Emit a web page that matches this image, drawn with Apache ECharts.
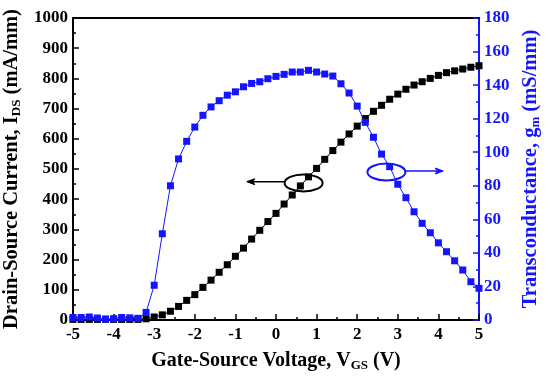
<!DOCTYPE html>
<html>
<head>
<meta charset="utf-8">
<script src="https://cdn.jsdelivr.net/npm/echarts@6/dist/echarts.min.js"></script>
<style>
html,body{margin:0;padding:0;background:#fff;}
#chart{width:550px;height:382px;}
</style>
</head>
<body>
<div id="chart"></div>
<script>
// Gate-source voltage (V)
var vgs = [-5.0,-4.8,-4.6,-4.4,-4.2,-4.0,-3.8,-3.6,-3.4,-3.2,
           -3.0,-2.8,-2.6,-2.4,-2.2,-2.0,-1.8,-1.6,-1.4,-1.2,
           -1.0,-0.8,-0.6,-0.4,-0.2,0.0,0.2,0.4,0.6,0.8,
           1.0,1.2,1.4,1.6,1.8,2.0,2.2,2.4,2.6,2.8,
           3.0,3.2,3.4,3.6,3.8,4.0,4.2,4.4,4.6,4.8,5.0];
// Drain-source current (mA/mm)
var ids = [2,2,2,2,3,2,2,2,2,4,
           10,17,29,45,65,84,108,132,158,183,
           211,238,268,297,326,353,384,414,444,474,
           502,532,561,589,616,642,667,691,711,731,
           748,764,778,789,800,810,819,825,831,837,842];
// Transconductance (mS/mm)
var gm = [1.5,1.5,1.8,1.2,0.4,0.8,1.5,1.3,1.0,4.5,
          20.7,51.4,80,96,106.5,115,122,127,130.7,134,
          136,139,141,142,143.8,145.2,146.4,147.8,147.8,148.8,
          147.8,146.6,145.4,140.8,135.3,127.5,117.8,108.9,98.9,91.4,
          80.9,72.9,64.5,57.6,52,46,40.7,35.3,29.8,22.8,18.9];
var xTicks = {min:-5, max:5, step:1};
var yLeftTicks = {min:0, max:1000, step:100};
var yRightTicks = {min:0, max:180, step:20};

var FONT = 'Liberation Serif';
var BLUE = '#1414ff';

function pairs(xs, ys){ return xs.map(function(x,i){ return [x, ys[i]]; }); }
function plain(v){ return String(v); }

var chart = echarts.init(document.getElementById('chart'), null, {renderer:'canvas'});

var labelStyle = {fontFamily:FONT, fontWeight:'bold', fontSize:17, formatter:plain};

var option = {
  animation:false,
  backgroundColor:'#fff',
  grid:{left:73, right:71, top:18, bottom:62, containLabel:false, outerBoundsMode:'none'},
  xAxis:[{
    type:'value', position:'bottom', min:xTicks.min, max:xTicks.max, interval:xTicks.step,
    axisLine:{show:true, onZero:false, lineStyle:{color:'#000', width:2}},
    axisTick:{show:true, inside:true, length:6, lineStyle:{color:'#000', width:1.5}},
    minorTick:{show:true, splitNumber:2, length:3, lineStyle:{color:'#000', width:1.5}},
    splitLine:{show:false},
    axisLabel:Object.assign({color:'#000', margin:6}, labelStyle),
    name:'{a|Gate-Source Voltage, V}{s|GS}{a| (V)}',
    nameLocation:'middle', nameGap:30,
    nameTextStyle:{color:'#000', rich:{
      a:{fontFamily:FONT, fontWeight:'bold', fontSize:20, color:'#000'},
      s:{fontFamily:FONT, fontWeight:'bold', fontSize:13, color:'#000', padding:[9,0,0,0]}
    }}
  },{
    type:'value', position:'top', min:xTicks.min, max:xTicks.max,
    axisLine:{show:true, onZero:false, lineStyle:{color:'#000', width:2}},
    axisTick:{show:false}, axisLabel:{show:false}, splitLine:{show:false}
  }],
  yAxis:[{
    type:'value', position:'left', min:yLeftTicks.min, max:yLeftTicks.max, interval:yLeftTicks.step,
    axisLine:{show:true, onZero:false, lineStyle:{color:'#000', width:2}},
    axisTick:{show:true, inside:true, length:6, lineStyle:{color:'#000', width:1.5}},
    minorTick:{show:true, splitNumber:2, length:3, lineStyle:{color:'#000', width:1.5}},
    splitLine:{show:false},
    axisLabel:Object.assign({color:'#000', margin:5}, labelStyle),
    name:'{a|Drain-Source Current, I}{s|DS}{a| (mA/mm)}',
    nameLocation:'middle', nameGap:45,
    nameTextStyle:{color:'#000', rich:{
      a:{fontFamily:FONT, fontWeight:'bold', fontSize:20.5, color:'#000'},
      s:{fontFamily:FONT, fontWeight:'bold', fontSize:13, color:'#000', padding:[9,0,0,0]}
    }}
  },{
    type:'value', position:'right', min:yRightTicks.min, max:yRightTicks.max, interval:yRightTicks.step,
    axisLine:{show:true, onZero:false, lineStyle:{color:BLUE, width:2}},
    axisTick:{show:true, inside:true, length:6, lineStyle:{color:BLUE, width:1.5}},
    minorTick:{show:true, splitNumber:2, length:3, lineStyle:{color:BLUE, width:1.5}},
    splitLine:{show:false},
    axisLabel:Object.assign({color:BLUE, margin:5}, labelStyle),
    name:'{a|Transconductance, g}{s|m}{a| (mS/mm)}',
    nameLocation:'middle', nameGap:40, nameRotate:90,
    nameTextStyle:{color:BLUE, rich:{
      a:{fontFamily:FONT, fontWeight:'bold', fontSize:20.5, color:BLUE},
      s:{fontFamily:FONT, fontWeight:'bold', fontSize:13, color:BLUE, padding:[9,0,0,0]}
    }}
  }],
  series:[{
    name:'IDS', type:'line', xAxisIndex:0, yAxisIndex:0,
    data:pairs(vgs, ids), symbol:'rect', symbolSize:7,
    itemStyle:{color:'#000'}, lineStyle:{color:'#000', width:1}, z:3
  },{
    name:'gm', type:'line', xAxisIndex:0, yAxisIndex:1,
    data:pairs(vgs, gm), symbol:'rect', symbolSize:7,
    itemStyle:{color:BLUE}, lineStyle:{color:BLUE, width:1}, z:4
  }]
};
chart.setOption(option);

// Annotation ellipses + arrows, placed in data coordinates
var bc = chart.convertToPixel({xAxisIndex:0, yAxisIndex:0}, [0.68, 454]);
var bt = chart.convertToPixel({xAxisIndex:0, yAxisIndex:0}, [-0.72, 458]);
var uc = chart.convertToPixel({xAxisIndex:0, yAxisIndex:1}, [2.72, 88.2]);
var ut = chart.convertToPixel({xAxisIndex:0, yAxisIndex:1}, [4.12, 88.8]);
var rx = 19, ry = 8.5;
function arrowHead(tip, dir, color){
  var L = 8, W = 3;
  return {type:'polygon', z:10, shape:{points:[
    [tip[0], tip[1]], [tip[0]-dir*L, tip[1]-W], [tip[0]-dir*L+dir*2, tip[1]], [tip[0]-dir*L, tip[1]+W]
  ]}, style:{fill:color, stroke:color, lineWidth:1}};
}
chart.setOption({graphic:[
  {type:'ellipse', z:10, shape:{cx:bc[0], cy:bc[1], rx:rx, ry:ry}, style:{fill:null, stroke:'#000', lineWidth:2}},
  {type:'line', z:10, shape:{x1:bc[0]-rx, y1:bt[1], x2:bt[0]+4, y2:bt[1]}, style:{stroke:'#000', lineWidth:1.5}},
  arrowHead(bt, -1, '#000'),
  {type:'ellipse', z:10, shape:{cx:uc[0], cy:uc[1], rx:rx, ry:ry}, style:{fill:null, stroke:BLUE, lineWidth:2}},
  {type:'line', z:10, shape:{x1:uc[0]+rx, y1:ut[1], x2:ut[0]-4, y2:ut[1]}, style:{stroke:BLUE, lineWidth:1.5}},
  arrowHead(ut, 1, BLUE)
]});
</script>
</body>
</html>
